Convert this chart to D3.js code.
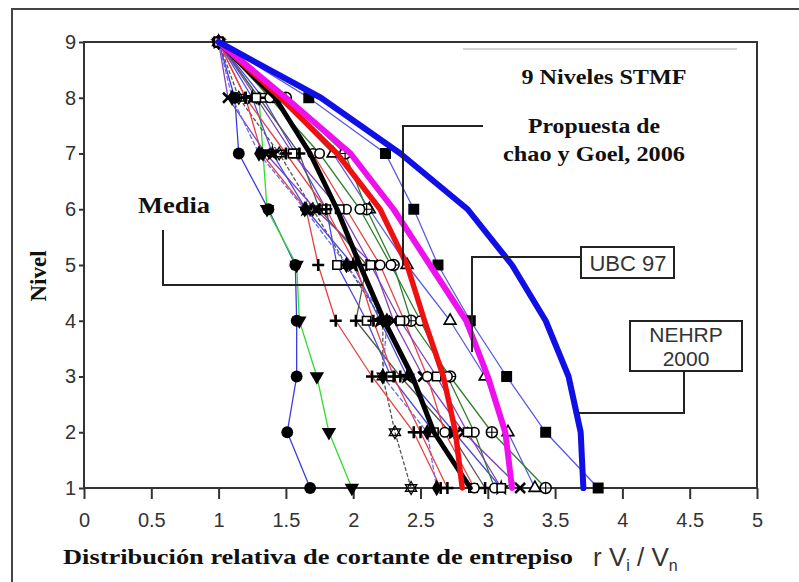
<!DOCTYPE html>
<html>
<head>
<meta charset="utf-8">
<script src="https://d3js.org/d3.v7.min.js"></script>
<style>
  body { margin: 0; background: #fff; }
  svg { display: block; }
  .serif { font-family: "Liberation Serif", "Times New Roman", serif; font-weight: bold; fill: #111; }
  .sans { font-family: "Liberation Sans", Arial, sans-serif; fill: #333; }
</style>
</head>
<body>
<div id="chart"></div>
<script>
// niveles (de arriba hacia abajo) y ticks
const levels = [9, 8, 7, 6, 5, 4, 3, 2, 1];
const xTickValues = [0, 0.5, 1, 1.5, 2, 2.5, 3, 3.5, 4, 4.5, 5];
const yTickValues = [1, 2, 3, 4, 5, 6, 7, 8, 9];

// curvas gruesas (valor por nivel 9..1)
const nehrp2000 = [1, 1.76, 2.35, 2.85, 3.18, 3.43, 3.6, 3.69, 3.71];
const ubc97     = [1, 1.5, 1.98, 2.3, 2.57, 2.84, 3.0, 3.13, 3.18];
const chaoGoel  = [1, 1.46, 1.88, 2.2, 2.4, 2.53, 2.67, 2.76, 2.81];
const media     = [1, 1.42, 1.68, 1.88, 2.05, 2.23, 2.44, 2.6, 2.87];

// registros individuales (lineas delgadas)
const regCircle   = [1, 1.12, 1.15, 1.37, 1.57, 1.58, 1.58, 1.51, 1.68];
const regTriDown  = [1, 1.3, 1.33, 1.36, 1.58, 1.6, 1.73, 1.82, 1.99];
const regHexa     = [1, 1.15, 1.45, 1.7, 1.95, 2.22, 2.22, 2.31, 2.43];
const regPlus     = [1, 1.2, 1.32, 1.65, 1.74, 1.87, 2.14, 2.45, 2.65];
const regSquare   = [1, 1.67, 2.24, 2.45, 2.63, 2.87, 3.14, 3.43, 3.82];
const regOpenTri  = [1, 1.45, 1.85, 2.12, 2.4, 2.72, 2.98, 3.15, 3.35];
const regOplus    = [1, 1.5, 1.94, 2.1, 2.3, 2.43, 2.72, 3.03, 3.43];
const regOpenSq   = [1, 1.33, 1.57, 1.8, 1.88, 2.1, 2.28, 2.6, 2.89];
const regTimes    = [1, 1.07, 1.35, 1.72, 2.15, 2.3, 2.52, 2.82, 3.24];
const regStar     = [1, 1.25, 1.4, 1.65, 2.0, 2.2, 2.4, 2.75, 3.1];
const regCross    = [1, 1.3, 1.6, 1.75, 2.1, 2.02, 2.35, 2.72, 2.98];
const regDiamond  = [1, 1.1, 1.3, 1.64, 1.95, 2.25, 2.22, 2.55, 2.62];
const regOpenCirc = [1, 1.4, 1.7, 1.95, 2.2, 2.38, 2.55, 2.68, 2.9];
const regHalf     = [1, 1.38, 1.75, 2.05, 2.28, 2.5, 2.7, 2.9, 3.05];
const regPurple   = [1, 1.28, 1.55, 1.9, 2.13, 2.35, 2.62, 2.85, 3.1];
const regRed2     = [1, 1.2, 1.5, 1.8, 2.02, 2.15, 2.3, 2.5, 2.7];

const thinSeries = [
  { v: regCircle,   color: "#3a3ae0", mk: "circle" },
  { v: regTriDown,  color: "#30dd30", mk: "triDown" },
  { v: regHexa,     color: "#555",    mk: "hexa", dash: "4,2" },
  { v: regPlus,     color: "#e84040", mk: "plus" },
  { v: regSquare,   color: "#5a5ae6", mk: "square" },
  { v: regOpenTri,  color: "#5a5ae6", mk: "openTri" },
  { v: regOplus,    color: "#2f7f2f", mk: "oplus" },
  { v: regOpenSq,   color: "#4a4ae0", mk: "openSq" },
  { v: regTimes,    color: "#8040c0", mk: "times" },
  { v: regStar,     color: "#4a4ae0", mk: "star" },
  { v: regCross,    color: "#555",    mk: "plus" },
  { v: regDiamond,  color: "#6a6aee", mk: "diamond", dash: "5,2" },
  { v: regOpenCirc, color: "#e84040", mk: "openCircle" },
  { v: regHalf,     color: "#2f7f2f", mk: "openCircle" },
  { v: regPurple,   color: "#8040c0", mk: "openSq" },
  { v: regRed2,     color: "#e84040", mk: "plus" }
];

const svg = d3.select("#chart").append("svg")
  .attr("width", 799).attr("height", 582);

const x = d3.scaleLinear().domain([0, 5]).range([84, 757]);
const y = d3.scaleLinear().domain([1, 9]).range([488, 42]);

// marco exterior
svg.append("path").attr("d", "M12,582V9H799")
  .attr("fill", "none").attr("stroke", "#444").attr("stroke-width", 2);
svg.append("line").attr("x1", 463).attr("x2", 737).attr("y1", 49).attr("y2", 49)
  .attr("stroke", "#d4d4d4").attr("stroke-width", 2);

// ejes
const xAxis = svg.append("g").attr("transform", "translate(0,488)")
  .call(d3.axisBottom(x).tickValues(xTickValues).tickSize(11).tickPadding(14)
    .tickFormat(d3.format("")));
const yAxis = svg.append("g").attr("transform", "translate(84,0)")
  .call(d3.axisLeft(y).tickValues(yTickValues).tickSize(5).tickPadding(3));
[xAxis, yAxis].forEach(a => {
  a.select(".domain").remove();
  a.selectAll("line").attr("stroke", "#333").attr("stroke-width", 2);
  a.selectAll("text").attr("class", "sans").style("font-size", "20px").attr("fill", "#444");
});

// caja del grafico
svg.append("rect").attr("x", x(0)).attr("y", y(9))
  .attr("width", x(5) - x(0)).attr("height", y(1) - y(9))
  .attr("fill", "none").attr("stroke", "#333").attr("stroke-width", 2);

const line = d3.line()
  .x(d => x(d[0]))
  .y(d => y(d[1]));

const pts = v => v.map((d, i) => [d, levels[i]]);

// lineas delgadas
thinSeries.forEach(s => {
  svg.append("path").datum(pts(s.v))
    .attr("d", line)
    .attr("fill", "none")
    .attr("stroke", s.color)
    .attr("stroke-width", 1.3)
    .attr("stroke-dasharray", s.dash || null);
});

// marcadores
const sym = (type, size) => d3.symbol().type(type).size(size)();
function marker(kind, cx, cy) {
  const g = svg.append("g").attr("transform", `translate(${cx},${cy})`);
  if (kind === "circle") g.append("path").attr("d", sym(d3.symbolCircle, 110)).attr("fill", "#000");
  else if (kind === "triDown") g.append("path").attr("d", sym(d3.symbolTriangle, 90))
    .attr("transform", "rotate(180)").attr("fill", "#000");
  else if (kind === "square") g.append("path").attr("d", sym(d3.symbolSquare, 120)).attr("fill", "#000");
  else if (kind === "openSq") g.append("path").attr("d", sym(d3.symbolSquare, 70))
    .attr("fill", "#fff").attr("stroke", "#000").attr("stroke-width", 1.6);
  else if (kind === "openTri") g.append("path").attr("d", sym(d3.symbolTriangle, 60))
    .attr("fill", "#fff").attr("stroke", "#000").attr("stroke-width", 1.6);
  else if (kind === "openCircle") g.append("path").attr("d", sym(d3.symbolCircle, 70))
    .attr("fill", "#fff").attr("stroke", "#000").attr("stroke-width", 1.6);
  else if (kind === "star") g.append("path").attr("d", sym(d3.symbolStar, 90)).attr("fill", "#000");
  else if (kind === "diamond") g.append("path").attr("d", sym(d3.symbolDiamond, 80)).attr("fill", "#000");
  else if (kind === "plus") g.append("path").attr("d", "M-6,0H6M0,-6V6")
    .attr("stroke", "#000").attr("stroke-width", 2.5);
  else if (kind === "times") g.append("path").attr("d", "M-5,-5L5,5M-5,5L5,-5")
    .attr("stroke", "#000").attr("stroke-width", 2.5);
  else if (kind === "oplus") {
    g.append("circle").attr("r", 5.5).attr("fill", "#fff").attr("stroke", "#000").attr("stroke-width", 1.5);
    g.append("path").attr("d", "M-5,0H5M0,-5V5").attr("stroke", "#000").attr("stroke-width", 1.2);
  } else if (kind === "hexa") {
    g.append("path").attr("d", sym(d3.symbolTriangle, 55)).attr("fill", "none").attr("stroke", "#000").attr("stroke-width", 1.3);
    g.append("path").attr("d", sym(d3.symbolTriangle, 55)).attr("transform", "rotate(180)")
      .attr("fill", "none").attr("stroke", "#000").attr("stroke-width", 1.3);
  }
}

// curvas gruesas
const thick = [
  { v: media,     color: "#000",    w: 5 },
  { v: chaoGoel,  color: "#ee1111", w: 5.5 },
  { v: ubc97,     color: "#ee11ee", w: 6 },
  { v: nehrp2000, color: "#1010e6", w: 6 }
];

thinSeries.forEach(s => {
  s.v.forEach((d, i) => marker(s.mk, x(d), y(levels[i])));
});

thick.forEach(s => {
  svg.append("path").datum(pts(s.v))
    .attr("d", line)
    .attr("fill", "none")
    .attr("stroke", s.color)
    .attr("stroke-width", s.w)
    .attr("stroke-linejoin", "round")
    .attr("stroke-linecap", "round");
});

// titulos de ejes
svg.append("text").attr("class", "serif")
  .attr("transform", "translate(46,276) rotate(-90)")
  .attr("text-anchor", "middle").style("font-size", "23px").text("Nivel");
svg.append("text").attr("class", "serif")
  .attr("x", 63).attr("y", 564)
  .attr("textLength", 510).attr("lengthAdjust", "spacingAndGlyphs")
  .style("font-size", "22px").text("Distribución relativa de cortante de entrepiso");
const vt = svg.append("text").attr("class", "sans").attr("x", 593).attr("y", 566)
  .style("font-size", "26px");
vt.append("tspan").text("r V");
vt.append("tspan").attr("dy", 5).style("font-size", "16px").text("i");
vt.append("tspan").attr("dy", -5).text(" / V");
vt.append("tspan").attr("dy", 5).style("font-size", "16px").text("n");

// anotaciones
const note = (txt, cx, by, fs, w) => svg.append("text").attr("class", "serif")
  .attr("x", cx - w / 2).attr("y", by)
  .attr("textLength", w).attr("lengthAdjust", "spacingAndGlyphs")
  .style("font-size", fs + "px").text(txt);
note("9 Niveles STMF", 604, 84, 22, 165);
note("Propuesta de", 594, 133, 22, 132);
note("chao y Goel, 2006", 594, 161, 22, 182);
note("Media", 174, 213, 23, 72);

const leader = d => svg.append("path").attr("d", d)
  .attr("fill", "none").attr("stroke", "#222").attr("stroke-width", 2);
leader(`M483,126H403V${y(5)}`);
leader(`M163,230V285H363`);
leader(`M581,257H472V352`);
leader(`M684,371V413H578`);

svg.append("rect").attr("x", 581).attr("y", 247).attr("width", 93).attr("height", 31)
  .attr("fill", "#fff").attr("stroke", "#222").attr("stroke-width", 2);
svg.append("text").attr("class", "sans").attr("x", 628).attr("y", 271)
  .attr("text-anchor", "middle").style("font-size", "22px").text("UBC 97");

svg.append("rect").attr("x", 630).attr("y", 321).attr("width", 112).attr("height", 50)
  .attr("fill", "#fff").attr("stroke", "#222").attr("stroke-width", 2);
svg.append("text").attr("class", "sans").attr("x", 686).attr("y", 342)
  .attr("text-anchor", "middle").style("font-size", "21px").text("NEHRP");
svg.append("text").attr("class", "sans").attr("x", 686).attr("y", 366)
  .attr("text-anchor", "middle").style("font-size", "21px").text("2000");
</script>
</body>
</html>
